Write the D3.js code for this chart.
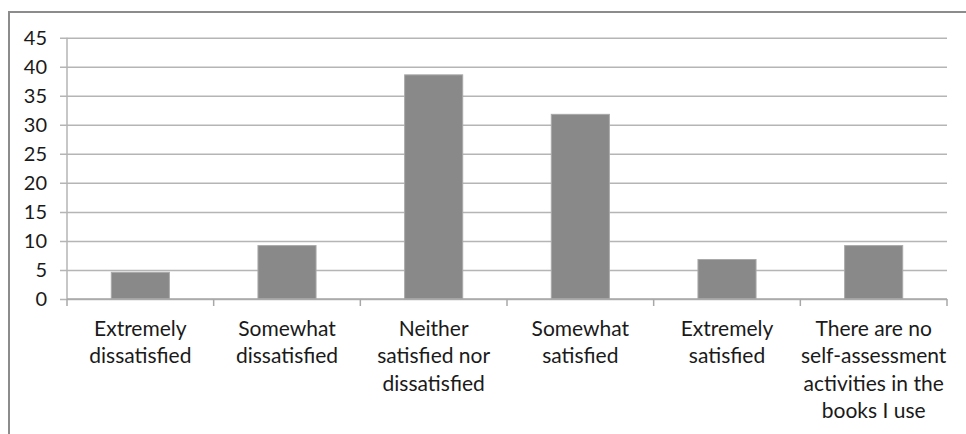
<!DOCTYPE html>
<html>
<head>
<meta charset="utf-8">
<script src="https://cdn.jsdelivr.net/npm/d3@7"></script>
<style>
  html, body { margin: 0; padding: 0; background: #fff; }
  svg { display: block; }
  text { font-family: Lato, "Open Sans", sans-serif; fill: #1a1a1a; }
</style>
</head>
<body>
<svg id="chart" width="966" height="434"></svg>
<script>
// Survey responses: satisfaction with self-assessment activities (%)
const categories = [
  "Extremely dissatisfied",
  "Somewhat dissatisfied",
  "Neither satisfied nor dissatisfied",
  "Somewhat satisfied",
  "Extremely satisfied",
  "There are no self-assessment activities in the books I use"
];
const categoryLines = [
  ["Extremely", "dissatisfied"],
  ["Somewhat", "dissatisfied"],
  ["Neither", "satisfied nor", "dissatisfied"],
  ["Somewhat", "satisfied"],
  ["Extremely", "satisfied"],
  ["There are no", "self-assessment", "activities in the", "books I use"]
];
const values = [4.6, 9.2, 38.6, 31.8, 6.8, 9.2];
const yTicks = [0, 5, 10, 15, 20, 25, 30, 35, 40, 45];

const svg = d3.select("#chart");

// Outer chart frame (top and left edges visible)
svg.append("path")
  .attr("d", "M9,434 L9,12 L966,12")
  .attr("fill", "none")
  .attr("stroke", "#8c8c8c")
  .attr("stroke-width", 2);

const plot = { left: 67, right: 947, top: 37.7, bottom: 299 };

const x = d3.scaleBand()
  .domain(categories)
  .range([plot.left, plot.right])
  .paddingInner(0.604)
  .paddingOuter(0.302);

const y = d3.scaleLinear()
  .domain([0, 45])
  .range([plot.bottom, plot.top]);

// Horizontal gridlines with short ticks left of the axis
const yAxis = d3.axisLeft(y)
  .tickValues(yTicks)
  .tickSize(plot.right - plot.left + 7)
  .tickPadding(13)
  .tickFormat(d3.format("d"));

const gy = svg.append("g")
  .attr("transform", `translate(${plot.right},0)`)
  .call(yAxis);
gy.select(".domain").remove();
gy.selectAll(".tick line")
  .attr("stroke", "#b5b5b5")
  .attr("stroke-width", 1.5);
gy.selectAll(".tick text")
  .attr("x", -(plot.right - plot.left) - 20)
  .style("font-size", "20px")
  .attr("fill", "#1a1a1a");

// Vertical axis line
svg.append("line")
  .attr("x1", plot.left).attr("x2", plot.left)
  .attr("y1", plot.top).attr("y2", plot.bottom)
  .attr("stroke", "#b5b5b5")
  .attr("stroke-width", 1.5);

// Bars
svg.append("g")
  .selectAll("rect")
  .data(values)
  .join("rect")
  .attr("x", (d, i) => x(categories[i]))
  .attr("width", x.bandwidth())
  .attr("y", d => y(d))
  .attr("height", d => y(0) - y(d))
  .attr("fill", "#898989")
  .attr("stroke", "#a9a9a9")
  .attr("stroke-width", 1);

// Baseline with category separator ticks
svg.append("line")
  .attr("x1", plot.left).attr("x2", plot.right)
  .attr("y1", plot.bottom).attr("y2", plot.bottom)
  .attr("stroke", "#a8a8a8")
  .attr("stroke-width", 1.5);

const boundaries = categories.map(c => x(c) - x.step() * x.paddingInner() / 2)
  .concat([plot.right]);
svg.append("g")
  .selectAll("line")
  .data(boundaries)
  .join("line")
  .attr("x1", d => d).attr("x2", d => d)
  .attr("y1", plot.bottom).attr("y2", plot.bottom + 7)
  .attr("stroke", "#a8a8a8")
  .attr("stroke-width", 1.5);

// Wrapped category labels
const labels = svg.append("g")
  .selectAll("text")
  .data(categories)
  .join("text")
  .attr("text-anchor", "middle")
  .style("font-size", "21px")
  .attr("x", d => x(d) + x.bandwidth() / 2)
  .attr("y", 336);
labels.each(function (d, i) {
  d3.select(this).selectAll("tspan")
    .data(categoryLines[i])
    .join("tspan")
    .attr("x", x(d) + x.bandwidth() / 2)
    .attr("dy", (t, j) => j === 0 ? 0 : 27.3)
    .text(t => t);
});
</script>
</body>
</html>
